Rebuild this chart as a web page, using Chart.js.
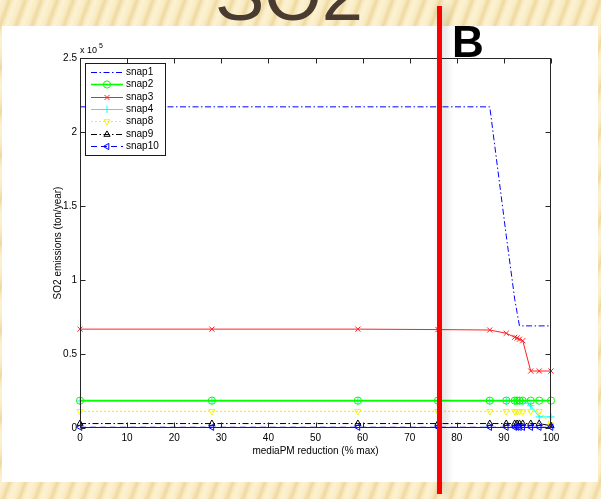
<!DOCTYPE html>
<html>
<head>
<meta charset="utf-8">
<title>SO2</title>
<script src="https://cdn.jsdelivr.net/npm/chart.js@4.4.1/dist/chart.umd.min.js"></script>
<style>
  html, body { margin: 0; padding: 0; width: 601px; height: 499px; overflow: hidden; }
  body {
    position: relative;
    background-color: #f7e8bc;
    background-image: repeating-linear-gradient(110deg,
      #fcf2d3 0px, #f9ebc3 5px, #efd9a1 9px, #f9ebc3 12px, #fcf2d3 15px);
  }
  #panel { position: absolute; left: 2px; top: 26px; width: 596px; height: 456px; background: #fff; }
  #chart { position: absolute; left: 0; top: 0; }
  #title {
    position: absolute; left: 0; width: 578px; top: -42px; text-align: center;
    font: 74px/74px "Liberation Sans", Arial, sans-serif; color: #4a3b30;
  }
  #mark {
    position: absolute; left: 452px; top: 20px;
    font: bold 44px/44px "Liberation Sans", Arial, sans-serif; color: #000;
  }
  #cut {
    position: absolute; left: 437px; top: 6px; width: 5px; height: 488px;
    background: #ff0000; box-shadow: 4px 0 8px rgba(0, 0, 0, 0.18);
  }
</style>
</head>
<body>
<div id="panel"></div>
<canvas id="chart" width="601" height="499"></canvas>
<div id="title">SO2</div>
<div id="cut"></div>
<div id="mark">B</div>

<script>
// Emission reduction scenarios (x, % of max) and SO2 emissions per SNAP sector (units of 1e5 ton/year)
const reduction = [0, 28, 59, 76, 87, 90.5, 92.3, 92.8, 93.3, 94, 95.7, 97.5, 100];
const snap1  = [2.17, 2.17, 2.17, 2.17, 2.17, 1.30, 0.87, 0.78, 0.69, 0.69, 0.69, 0.69, 0.69];
const snap2  = [0.185, 0.185, 0.185, 0.185, 0.185, 0.185, 0.185, 0.185, 0.185, 0.185, 0.185, 0.185, 0.185];
const snap3  = [0.668, 0.668, 0.668, 0.665, 0.662, 0.640, 0.613, 0.608, 0.600, 0.590, 0.385, 0.385, 0.385];
const snap4  = [0.183, 0.183, 0.183, 0.183, 0.183, 0.183, 0.183, 0.183, 0.183, 0.183, 0.150, 0.075, 0.075];
const snap8  = [0.112, 0.112, 0.112, 0.112, 0.112, 0.112, 0.112, 0.112, 0.112, 0.112, 0.112, 0.112, 0.022];
const snap9  = [0.030, 0.030, 0.030, 0.030, 0.030, 0.030, 0.030, 0.030, 0.030, 0.030, 0.030, 0.030, 0.015];
const snap10 = [0.005, 0.005, 0.005, 0.005, 0.005, 0.005, 0.005, 0.005, 0.005, 0.005, 0.005, 0.005, 0.005];

const xTicks = [0, 10, 20, 30, 40, 50, 60, 70, 80, 90, 100];
const yTicks = [0, 0.5, 1, 1.5, 2, 2.5];
const yTickLabels = ['0', '0.5', '1', '1.5', '2', '2.5'];

const FONT = '"Liberation Sans", Arial, Helvetica, sans-serif';
Chart.defaults.font.family = FONT;
Chart.defaults.font.size = 10;
Chart.defaults.color = '#000';

const MARKER = 3.6;
const toPoints = vals => vals.map((v, i) => ({ x: reduction[i], y: v }));

function series(label, values, color, dash, style, rotation, order, width) {
  return {
    label,
    data: toPoints(values),
    borderColor: color,
    borderWidth: width || 1,
    borderDash: dash,
    pointStyle: style,
    pointRotation: rotation,
    pointRadius: style ? MARKER : 0,
    pointBorderWidth: 1,
    pointBorderColor: color,
    pointBackgroundColor: 'rgba(0,0,0,0)',
    tension: 0,
    clip: false,
    order
  };
}

const datasets = [
  series('snap1',  snap1,  '#0000ff', [6, 2.5, 1.5, 2.5], false, 0, 7),
  series('snap2',  snap2,  '#00ff00', [], 'circle', 0, 5, 1.6),
  series('snap3',  snap3,  '#ff2020', [], 'crossRot', 0, 4),
  series('snap4',  snap4,  '#00ffff', [], 'cross', 0, 6),
  series('snap8',  snap8,  '#f5f500', [2, 2], 'triangle', 180, 3, 1.2),
  series('snap9',  snap9,  '#000000', [6, 2.5, 1.5, 2.5], 'triangle', 0, 2),
  series('snap10', snap10, '#0000ff', [6, 4], 'triangle', 270, 1)
];

// MATLAB-style axes box with inward ticks on all four sides
const boxAndTicks = {
  id: 'boxAndTicks',
  afterDatasetsDraw(chart) {
    const { ctx, chartArea: a, scales: { x, y } } = chart;
    const len = 5;
    ctx.save();
    ctx.strokeStyle = '#262626';
    ctx.lineWidth = 1;
    ctx.setLineDash([]);
    const L = Math.round(a.left) + 0.5, R = Math.round(a.right) - 0.5;
    const T = Math.round(a.top) + 0.5, B = Math.round(a.bottom) - 0.5;
    ctx.strokeRect(L, T, R - L, B - T);
    ctx.beginPath();
    x.ticks.forEach(t => {
      const px = Math.round(x.getPixelForValue(t.value)) + 0.5;
      ctx.moveTo(px, B); ctx.lineTo(px, B - len);
      ctx.moveTo(px, T); ctx.lineTo(px, T + len);
    });
    y.ticks.forEach(t => {
      const py = Math.round(y.getPixelForValue(t.value)) + 0.5;
      ctx.moveTo(L, py); ctx.lineTo(L + len, py);
      ctx.moveTo(R, py); ctx.lineTo(R - len, py);
    });
    ctx.stroke();
    ctx.restore();
  }
};

// Legend box with line sample and marker, plus the axis exponent label
const matlabLegend = {
  id: 'matlabLegend',
  afterDraw(chart) {
    const { ctx, chartArea: a } = chart;
    const box = { x: 85.5, y: 63.5, w: 80, h: 92 };
    ctx.save();
    ctx.fillStyle = '#fff';
    ctx.fillRect(box.x, box.y, box.w, box.h);
    ctx.strokeStyle = '#1a1a1a';
    ctx.lineWidth = 1;
    ctx.strokeRect(box.x, box.y, box.w, box.h);

    chart.data.datasets.forEach((ds, i) => {
      const yy = Math.round(72 + i * 12.3) + 0.5;
      ctx.strokeStyle = ds.borderColor;
      ctx.lineWidth = ds.borderWidth;
      ctx.setLineDash(ds.borderDash || []);
      ctx.beginPath();
      ctx.moveTo(91, yy); ctx.lineTo(123, yy);
      ctx.stroke();
      ctx.setLineDash([]);
      if (ds.pointStyle) {
        ctx.strokeStyle = ds.borderColor;
        ctx.lineWidth = 1;
        ctx.fillStyle = 'rgba(0,0,0,0)';
        Chart.helpers.drawPoint(ctx, {
          pointStyle: ds.pointStyle, rotation: ds.pointRotation,
          radius: MARKER, borderWidth: 1
        }, 107, yy);
      }
      ctx.fillStyle = '#000';
      ctx.font = '10px ' + FONT;
      ctx.textAlign = 'left';
      ctx.textBaseline = 'middle';
      ctx.fillText(ds.label, 126, yy);
    });

    // exponent of the y axis
    ctx.fillStyle = '#000';
    ctx.textAlign = 'left';
    ctx.textBaseline = 'alphabetic';
    ctx.font = '9px ' + FONT;
    ctx.fillText('x 10', a.left, a.top - 5);
    const w = ctx.measureText('x 10').width;
    ctx.font = '7px ' + FONT;
    ctx.fillText('5', a.left + w + 2, a.top - 10);
    ctx.restore();
  }
};

new Chart(document.getElementById('chart'), {
  type: 'line',
  data: { datasets },
  options: {
    responsive: false,
    animation: false,
    events: [],
    layout: { padding: { left: 0, right: 50, top: 58, bottom: 0 } },
    plugins: { legend: { display: false }, tooltip: { enabled: false } },
    scales: {
      x: {
        type: 'linear', min: 0, max: 100,
        afterBuildTicks: s => { s.ticks = xTicks.map(v => ({ value: v })); },
        afterFit: s => { s.height = 71; },
        grid: { display: false, drawTicks: false },
        border: { display: false },
        ticks: { padding: 4, color: '#000', font: { size: 10 } },
        title: { display: true, text: 'mediaPM reduction (% max)', color: '#000',
                 font: { size: 10 }, padding: { top: 0, bottom: 42 } }
      },
      y: {
        type: 'linear', min: 0, max: 2.5,
        afterBuildTicks: s => { s.ticks = yTicks.map(v => ({ value: v })); },
        afterFit: s => { s.width = 80; },
        grid: { display: false, drawTicks: false },
        border: { display: false },
        ticks: { padding: 3, color: '#000', font: { size: 10 },
                 callback: v => yTickLabels[yTicks.indexOf(v)] },
        title: { display: true, text: 'SO2 emissions (ton/year)', color: '#000',
                 font: { size: 10 }, padding: { top: 52, bottom: 0 } }
      }
    }
  },
  plugins: [boxAndTicks, matlabLegend]
});
</script>
</body>
</html>
